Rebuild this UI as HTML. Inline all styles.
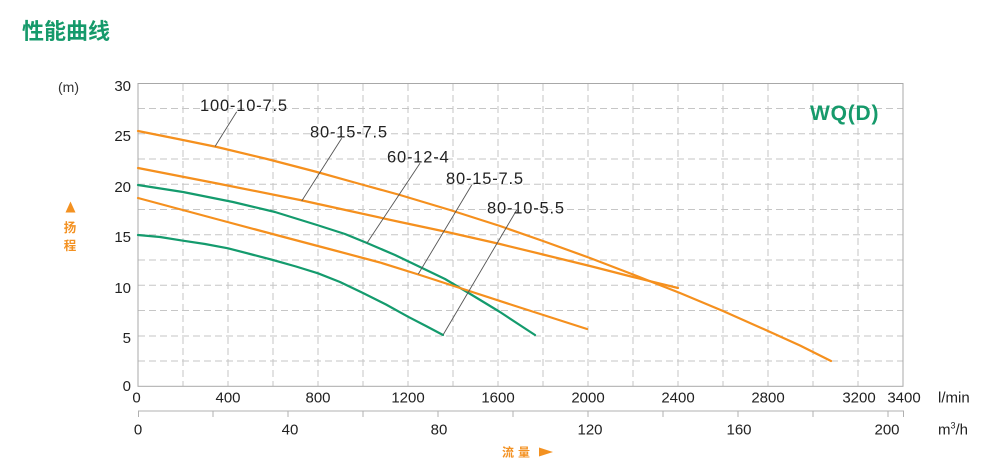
<!DOCTYPE html>
<html><head><meta charset="utf-8"><style>
html,body{margin:0;padding:0;background:#fff;}
svg{display:block;}
text{font-family:"Liberation Sans","Noto Sans CJK SC",sans-serif;}
</style></head><body>
<svg width="1000" height="470" viewBox="0 0 1000 470" xmlns="http://www.w3.org/2000/svg">
<rect width="1000" height="470" fill="#fff"/>
<text x="22" y="39" font-size="22" font-weight="bold" fill="#169a6b" font-family="'Noto Sans CJK SC',sans-serif">性能曲线</text>

<!-- grid -->
<g stroke="#c6c6c6" stroke-width="1" stroke-dasharray="7 4" fill="none">
<line x1="183" y1="84" x2="183" y2="386"/>
<line x1="228" y1="84" x2="228" y2="386"/>
<line x1="273" y1="84" x2="273" y2="386"/>
<line x1="318" y1="84" x2="318" y2="386"/>
<line x1="363" y1="84" x2="363" y2="386"/>
<line x1="408" y1="84" x2="408" y2="386"/>
<line x1="453" y1="84" x2="453" y2="386"/>
<line x1="498" y1="84" x2="498" y2="386"/>
<line x1="543" y1="84" x2="543" y2="386"/>
<line x1="588" y1="84" x2="588" y2="386"/>
<line x1="633" y1="84" x2="633" y2="386"/>
<line x1="678" y1="84" x2="678" y2="386"/>
<line x1="723" y1="84" x2="723" y2="386"/>
<line x1="768" y1="84" x2="768" y2="386"/>
<line x1="813" y1="84" x2="813" y2="386"/>
<line x1="858" y1="84" x2="858" y2="386"/>
<line x1="138" y1="361" x2="903" y2="361"/>
<line x1="138" y1="336" x2="903" y2="336"/>
<line x1="138" y1="310.5" x2="903" y2="310.5"/>
<line x1="138" y1="285.3" x2="903" y2="285.3"/>
<line x1="138" y1="260" x2="903" y2="260"/>
<line x1="138" y1="234.8" x2="903" y2="234.8"/>
<line x1="138" y1="209.5" x2="903" y2="209.5"/>
<line x1="138" y1="184.3" x2="903" y2="184.3"/>
<line x1="138" y1="159" x2="903" y2="159"/>
<line x1="138" y1="133.8" x2="903" y2="133.8"/>
<line x1="138" y1="108.5" x2="903" y2="108.5"/>
</g>
<rect x="138" y="83.5" width="765" height="302.8" fill="none" stroke="#a8a8a8" stroke-width="1"/>

<!-- second axis -->
<g stroke="#b0b0b0" stroke-width="1">
<line x1="138" y1="411" x2="904" y2="411"/>
<line x1="138.5" y1="411" x2="138.5" y2="417"/>
<line x1="213" y1="411" x2="213" y2="417"/>
<line x1="288" y1="411" x2="288" y2="417"/>
<line x1="363" y1="411" x2="363" y2="417"/>
<line x1="438" y1="411" x2="438" y2="417"/>
<line x1="513" y1="411" x2="513" y2="417"/>
<line x1="588" y1="411" x2="588" y2="417"/>
<line x1="663" y1="411" x2="663" y2="417"/>
<line x1="738" y1="411" x2="738" y2="417"/>
<line x1="813" y1="411" x2="813" y2="417"/>
<line x1="888" y1="411" x2="888" y2="417"/>
<line x1="903.5" y1="411" x2="903.5" y2="417"/>
</g>

<!-- y labels -->
<g font-size="15" fill="#222" text-anchor="end">
<text x="131" y="91">30</text>
<text x="131" y="141">25</text>
<text x="131" y="192">20</text>
<text x="131" y="242">15</text>
<text x="131" y="293">10</text>
<text x="131" y="343">5</text>
<text x="131" y="391">0</text>
</g>
<text x="58" y="92" font-size="14" fill="#333">(m)</text>
<polygon points="70.5,201.5 75.5,212.5 65.5,212.5" fill="#f39121"/>
<text x="70" y="232" font-size="12.5" font-weight="bold" fill="#f39121" text-anchor="middle" font-family="'Noto Sans CJK SC',sans-serif">扬</text>
<text x="70" y="250" font-size="12.5" font-weight="bold" fill="#f39121" text-anchor="middle" font-family="'Noto Sans CJK SC',sans-serif">程</text>

<!-- x labels -->
<g font-size="15" fill="#222" text-anchor="middle">
<text x="136.5" y="402.5">0</text>
<text x="228" y="402.5">400</text>
<text x="318" y="402.5">800</text>
<text x="408" y="402.5">1200</text>
<text x="498" y="402.5">1600</text>
<text x="588" y="402.5">2000</text>
<text x="678" y="402.5">2400</text>
<text x="768" y="402.5">2800</text>
<text x="859" y="402.5">3200</text>
<text x="904" y="402.5">3400</text>
<text x="138" y="434.5">0</text>
<text x="290" y="434.5">40</text>
<text x="439" y="434.5">80</text>
<text x="590" y="434.5">120</text>
<text x="739" y="434.5">160</text>
<text x="887" y="434.5">200</text>
</g>
<text x="938" y="402.5" font-size="15" fill="#222">l/min</text>
<text x="938" y="434.5" font-size="15" fill="#222">m<tspan font-size="9" dy="-6">3</tspan><tspan dy="6">/h</tspan></text>
<text x="502" y="456.5" font-size="12" font-weight="bold" fill="#f39121" font-family="'Noto Sans CJK SC',sans-serif" letter-spacing="4">流量</text>
<polygon points="539,447.5 553,452 539,456.5" fill="#f39121"/>

<!-- WQ(D) -->
<text x="810" y="120" font-size="21" font-weight="bold" fill="#169a6b" letter-spacing="0.8">WQ(D)</text>

<!-- curves -->
<g fill="none" stroke-width="2.2" stroke-linejoin="round" stroke-linecap="round">
<polyline stroke="#f5901e" points="138,131 178,139 217,147 267,159 317,172 360,184 400,195 450,210 500,226 543,241 590,258 633,274.5 680,293 723,311 768,331 800,345.5 831,361"/>
<polyline stroke="#f5901e" points="138,168 220,184 300,200 350,211 400,222 447,232 500,244 543,254.5 590,266 633,277 678,288"/>
<polyline stroke="#149b6d" points="138,185 183,192 233,202 275,212 317,225 345,234 367,243 395,255 420,267 445,279 467,292 500,312 535,335"/>
<polyline stroke="#f5901e" points="138,198 220,220 280,236 333,250 380,262.5 420,275 460,288 520,307.5 587,329"/>
<polyline stroke="#149b6d" points="138,235 160,237 183,240.7 205,244 228,248.3 250,254 273,260 296,266.5 318,273.3 340,282 363,293 386,304.5 408,316.7 426,326 443,335"/>
</g>

<!-- leaders -->
<g stroke="#555" stroke-width="0.9">
<line x1="236.7" y1="111.7" x2="215" y2="146.5"/>
<line x1="341.7" y1="138.3" x2="301.7" y2="201"/>
<line x1="420" y1="163.3" x2="367" y2="243"/>
<line x1="471.7" y1="185" x2="418.3" y2="274"/>
<line x1="516.7" y1="210" x2="443.3" y2="334.5"/>
</g>
<g font-size="16.5" fill="#222" letter-spacing="0.8">
<text x="200" y="111">100-10-7.5</text>
<text x="310" y="137.5">80-15-7.5</text>
<text x="387" y="162.5">60-12-4</text>
<text x="446" y="184">80-15-7.5</text>
<text x="487" y="213.5">80-10-5.5</text>
</g>
</svg>
</body></html>
